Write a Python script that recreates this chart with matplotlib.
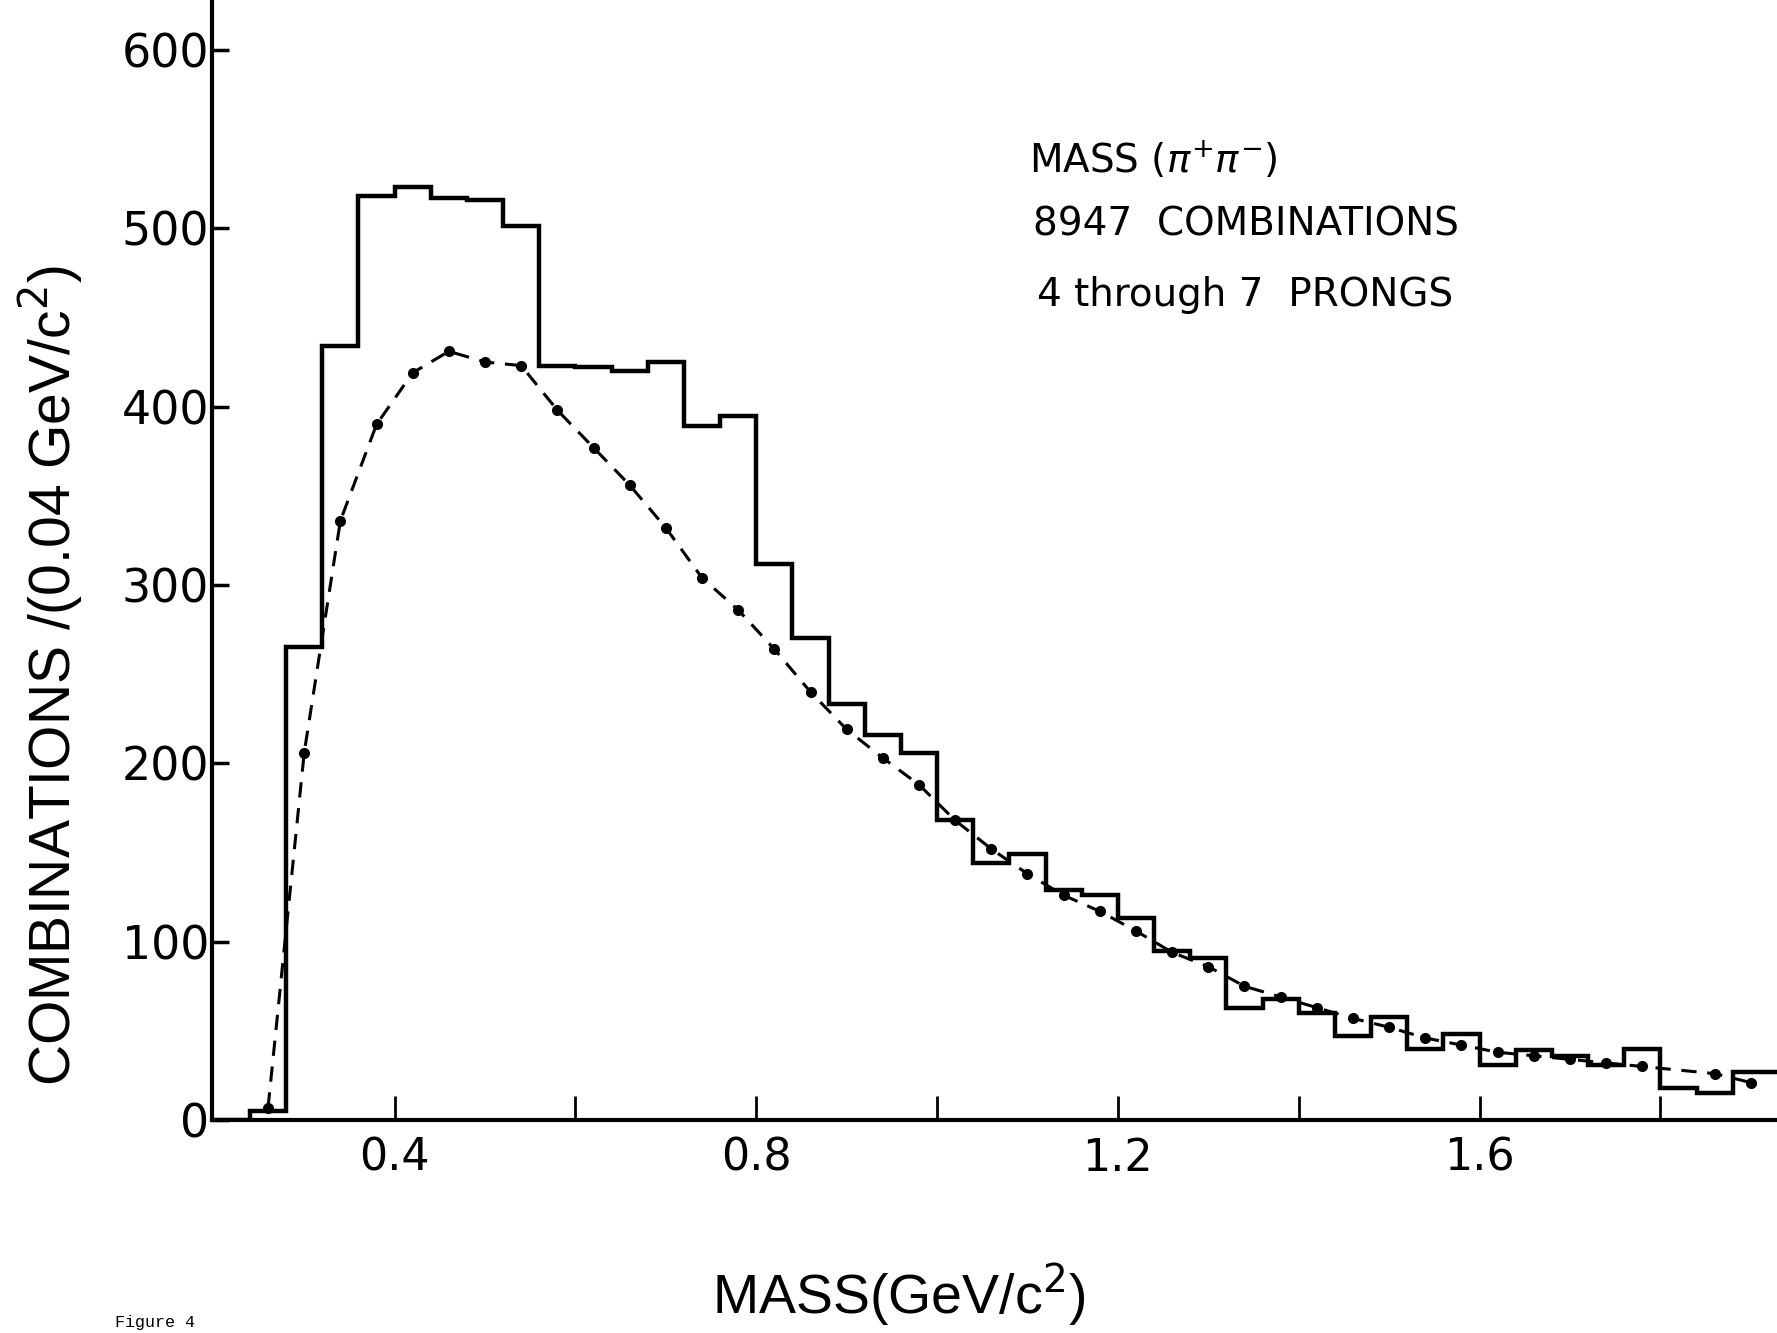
import numpy as np
import matplotlib.pyplot as plt

# histogram: pi+ pi- mass, 0.04 GeV/c^2 bins
bin_edges = np.round(np.arange(0.20, 1.961, 0.04), 2)
counts = [0, 5, 265, 434, 518, 523, 517, 516, 501, 423, 422, 420, 425, 389,
          395, 312, 270, 233, 216, 206, 168, 144, 149, 129, 126, 113, 95, 91,
          63, 68, 60, 47, 58, 40, 48, 31, 39, 36, 31, 40, 18, 15, 27, 27]

# phase space curve (dots)
curve_x = [0.26, 0.30, 0.34, 0.38, 0.42, 0.46, 0.50, 0.54, 0.58, 0.62, 0.66,
           0.70, 0.74, 0.78, 0.82, 0.86, 0.90, 0.94, 0.98, 1.02, 1.06, 1.10,
           1.14, 1.18, 1.22, 1.26, 1.30, 1.34, 1.38, 1.42, 1.46, 1.50, 1.54,
           1.58, 1.62, 1.66, 1.70, 1.74, 1.78, 1.86, 1.90]
curve_y = [7, 206, 336, 390, 419, 431, 425, 423, 398, 377, 356, 332, 304, 286,
           264, 240, 219, 203, 188, 168, 152, 138, 126, 117, 106, 94, 86, 75,
           69, 63, 57, 52, 46, 42, 38, 36, 34, 32, 30, 26, 21]

x_ticks = [0.4, 0.6, 0.8, 1.0, 1.2, 1.4, 1.6, 1.8]
x_ticklabels = ['0.4', '', '0.8', '', '1.2', '', '1.6', '']
y_ticks = [0, 100, 200, 300, 400, 500, 600]
y_ticklabels = ['0', '100', '200', '300', '400', '500', '600']

W, H = 1777, 1333
fig = plt.figure(figsize=(W / 100, H / 100), dpi=100)
ax = fig.add_axes([212 / W, 1 - 1120 / H, 1 - 212 / W, 1120 / H])

ax.stairs(counts, bin_edges, color='black', lw=3.2)
ax.plot(curve_x, curve_y, color='black', lw=2.2, linestyle=(0, (5, 3.5)))
ax.plot(curve_x, curve_y, 'o', color='black', ms=8, mec='none')

ax.set_xlim(0.198, 1.929)
ax.set_ylim(0, 628)

for s in ['top', 'right']:
    ax.spines[s].set_visible(False)
for s in ['left', 'bottom']:
    ax.spines[s].set_linewidth(3)

ax.set_xticks(x_ticks)
ax.set_xticklabels(x_ticklabels)
ax.set_yticks(y_ticks)
ax.set_yticklabels(y_ticklabels)
ax.tick_params(axis='x', direction='in', length=17, width=2, pad=12, labelsize=32)
ax.tick_params(axis='y', direction='in', length=12, width=2.5, pad=2, labelsize=33)

fig.text(51 / W, 1 - 676 / H, 'COMBINATIONS /(0.04 GeV/c$^2$)', rotation=90,
         ha='center', va='center', fontsize=41, family='Liberation Sans')
fig.text(899 / W, 1 - 1295 / H, 'MASS(GeV/c$^2$)', ha='center', va='center',
         fontsize=40, family='Liberation Sans')

fig.text(1029 / W, 1 - 173 / H, r'MASS ($\pi^{+}\pi^{-}$)', ha='left',
         va='baseline', fontsize=28)
fig.text(1033 / W, 1 - 236 / H, '8947  COMBINATIONS', ha='left',
         va='baseline', fontsize=28)
fig.text(1037 / W, 1 - 306 / H, '4 through 7  PRONGS', ha='left',
         va='baseline', fontsize=28)

fig.text(115 / W, 0.002, 'Figure 4', ha='left', va='bottom', fontsize=12,
         family='Liberation Mono')

fig.savefig('out.png', dpi=100)
